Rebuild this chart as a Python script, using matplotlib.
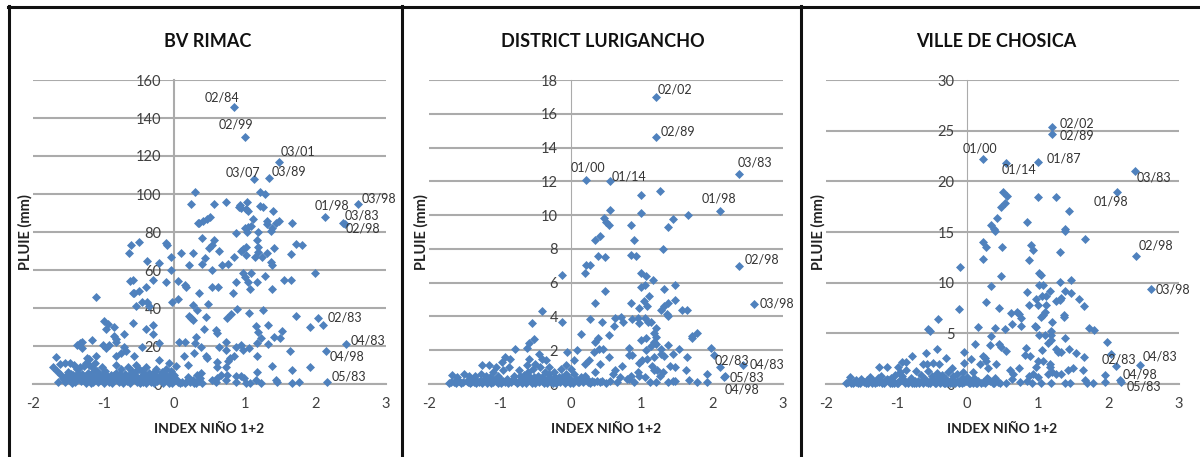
import matplotlib
matplotlib.use('Agg')
import matplotlib.pyplot as plt
from matplotlib.lines import Line2D
import numpy as np

plt.rcParams['font.family'] = ['Lato', 'DejaVu Sans']
plt.rcParams['axes.unicode_minus'] = False

# (indice, pluie)
rimac_pts = [
    (0.85,146),(1.0,130),(1.48,117),(1.13,108),(1.34,108.5),(2.13,88),(2.6,95),(2.39,85),(2.42,84),
    (0.29,101),(1.21,101),(1.28,100),(0.24,95),(0.57,95),(0.73,96),(1.03,96),(0.93,94),(0.92,93),(0.95,92.5),
    (1.01,92),(1.05,91),(1.21,93.5),(1.26,93),(1.4,91),(1.11,87),(1.32,86),(1.49,86),(1.44,85),(1.67,85),
    (0.51,88),(0.47,87),(0.41,86),(0.35,85),(0.34,84.5),(1.09,83),(1.05,82.5),(1.0,82),(1.32,84),(1.38,82),
    (0.88,79.5),(1.03,80),(1.19,80),(1.37,80.5),(0.39,77),(0.57,76),(-0.5,74.5),(-0.61,73),(-0.64,69),(-0.11,74),
    (-0.1,73),(0.54,73),(0.49,71.5),(0.63,70),(0.27,69),(0.09,69),(-0.05,67),(1.17,76),(1.19,72),(1.18,69.5),
    (1.15,67),(0.98,71),(1.02,72),(0.94,70),(1.01,68),(1.31,69),(1.25,67),(1.42,71.5),(1.73,73.5),(1.81,73),
    (1.65,68.5),(0.84,67),(0.43,66.5),(-0.39,65),(-0.21,63.5),(0.21,62.5),(0.39,63),(0.67,62.5),(0.76,63),
    (1.37,64),(1.38,62.5),(-0.04,60),(0.54,60),(2.0,58.5),(1.09,58.5),(0.98,58.5),(1.0,56.5),(1.28,57),
    (1.56,54.5),(1.65,54.5),(-0.59,55),(-0.63,54),(-0.3,54.5),(-0.11,53.5),(0.05,54),(0.16,52),(0.17,51),
    (0.54,51),(0.62,51),(1.05,53.5),(1.17,53.5),(0.87,53.5),(1.07,50),(1.38,50),(-0.4,51),(-0.5,49),(-0.59,48),
    (-0.57,48),(0.83,48),(0.35,48),(-1.11,46),(0.05,45),(-0.03,43),(-0.45,43),(-0.38,43),(-0.54,41),(-0.35,41),
    (0.26,41.5),(0.48,42),(0.33,39),(0.89,39.5),(1.26,39),(1.06,37.5),(0.81,37),(0.75,35),(0.21,36),(0.24,34.5),
    (0.27,33.5),(0.45,35.5),(1.72,36),(2.03,35),(2.11,31),(1.93,30),(-0.99,33),(-0.94,31.5),(-0.97,29),(-0.85,30),
    (-0.59,32),(-0.4,29),(-0.3,31),(-0.3,26.5),(0.42,29),(0.59,28.5),(0.61,27),(1.16,30.5),(1.33,31),(1.19,27.5),
    (1.53,28),(-0.71,26.5),(-0.85,25.5),(-0.82,23.5),(1.42,24.5),(1.5,24),(1.23,24),(0.31,24.5),(-1.17,23),
    (-1.3,22),(-1.34,21.5),(-1.38,20.5),(-1.31,19),(-1.01,20.5),(-0.92,20.5),(-0.83,22),(-0.97,19),(-0.71,19.5),
    (-0.68,17.5),(-0.75,16.5),(-0.45,19.5),(-0.21,21.5),(0.07,22),(0.16,22),(0.3,21.5),(0.38,19.5),(0.63,19.5),
    (0.74,22),(0.74,18),(0.87,19.5),(0.94,20.5),(0.97,18),(1.06,19),(1.17,21.5),(1.33,21),(1.64,17.5),(2.15,17.5),
    (2.44,21),(0.28,16.5),(0.14,14.5),(0.45,14.5),(0.47,13.5),(1.17,15),(0.79,13.5),(0.85,14.5),(0.76,12),
    (0.61,11.5),(-0.21,12.5),(-0.07,11),(-0.57,14.5),(-0.83,14.5),(-1.11,14.5),(-1.24,13.5),(-1.67,14),
    (1.38,9.5),(1.93,9),(1.67,7.5),(1.17,6.5),(0.61,9),(0.74,9),(0.02,9.5),(0.19,10),(-0.4,9),(-0.54,10),(-0.83,10),
    (2.17,1),(1.77,1),(1.67,0.5),(1.44,2),(1.46,1),(1.23,0.5),(1.16,2),(1.01,0.5),(1.08,0.3),(0.88,1),(0.94,4),
    (0.87,4),(0.99,3),(0.75,4.5),(0.66,5),(0.73,2),(0.54,2),(0.59,1),(0.61,3),(0.39,0.5),(0.35,1.5),(0.31,0.5),
    (0.26,2),(0.2,3.5),(0.15,0.5),(0.08,0.5),(0.33,5),(0.38,6),
    # zone dense en bas a gauche
    (-1.71,9),(-1.66,7),(-1.62,10.5),(-1.55,11),(-1.47,11),(-1.42,10),(-1.58,3),(-1.52,5),(-1.48,2),(-1.43,4.5),
    (-1.65,1),(-1.55,1),(-1.45,0.7),(-1.38,8),(-1.33,9),(-1.28,9.5),(-1.25,11),(-1.2,10),(-1.15,8.5),(-1.1,7),
    (-1.35,3),(-1.3,5.5),(-1.27,2),(-1.22,6),(-1.18,4),(-1.15,1),(-1.1,3.5),(-1.05,5),(-1.02,9),(-1.0,0.5),
    (-0.98,7),(-0.95,3),(-0.92,1),(-0.9,5),(-0.86,2.5),(-0.83,6),(-0.8,4),(-0.78,1),(-0.75,8),(-0.72,3),
    (-0.7,5.5),(-0.67,1.5),(-0.64,4),(-0.6,7),(-0.58,2.5),(-0.55,5),(-0.52,1),(-0.5,8),(-0.47,3.5),(-0.44,1),
    (-0.42,5),(-0.38,2),(-0.35,6),(-0.33,0.8),(-0.3,3),(-0.27,7),(-0.24,1.5),(-0.2,4.5),(-0.17,6.5),(-0.14,2),
    (-0.11,5),(-0.08,0.5),(-0.05,7),(-0.02,3),(0.0,5),(-1.4,1),(-1.25,0.5),(-1.18,0.6),(-1.08,0.8),(-0.88,0.5),
    (-0.73,0.6),(-0.62,0.5),(-0.48,0.5),(-0.4,0.7),(-0.28,0.5),(-0.16,0.5),(-0.03,0.6),(-1.5,6.5),(-1.36,6),
    (-1.12,11),(-1.2,13),(-1.05,2),(-0.65,9),(-0.46,7),(-0.26,8),(-0.12,8),
    (-1.6,4.5),(-1.56,2.5),(-1.5,3.5),(-1.46,5.5),(-1.4,3),(-1.37,5),(-1.32,1.5),(-1.28,3.5),(-1.24,4.5),(-1.2,2),
    (-1.16,6),(-1.12,2.5),(-1.08,5),(-1.03,3),(-1.0,6),(-0.96,4.5),(-0.93,2),(-0.88,3.5),(-0.85,4.5),(-0.81,2.5),
    (-0.77,5.5),(-0.74,2),(-0.69,4),(-0.66,3),(-0.62,5.5),(-0.59,4),(-0.56,6.5),(-0.53,3),(-0.49,2),(-0.45,4),
    (-0.4,3),(-0.37,4.5),(-0.32,2),(-0.29,5),(-0.25,3.5),(-0.21,2.5),(-0.18,3.5),(-0.13,4),(-0.09,2.5),(-0.06,4.5),
    (-0.01,1.5),(0.03,2.5),(0.06,1),(0.11,1),(0.18,1.5),(0.23,1),(0.28,0.5),(0.36,3),
]
rimac_labels = ['02/84','02/99','03/01','03/07','03/89','01/98','03/98','03/83','02/98','02/83','04/83','04/98','05/83']
rimac_label_x = [0.68,0.87,1.75,0.98,1.63,2.24,2.9,2.66,2.67,2.42,2.74,2.45,2.47]
rimac_label_y = [150.7,136.7,122.5,111.4,111.8,93.7,97.4,88.8,82,34.9,22.8,14.7,3.7]

lurigancho_pts = [
    (1.2,17),(1.2,14.6),(0.22,12.05),(0.55,12),(2.38,12.45),(2.11,10.25),(1.26,11.4),(1.0,11.2),(0.56,10.3),
    (1.0,10.1),(1.66,10),(1.44,9.75),(0.47,9.8),(0.5,9.6),(0.54,9.4),(0.85,9.4),(1.38,9.3),
    (0.42,8.75),(0.34,8.55),(0.9,8.55),(1.31,8),(0.39,7.55),(0.49,7.5),(0.86,7.65),(0.93,7.55),(0.22,7.05),
    (0.28,7.05),(2.38,7),(0.21,6.55),(-0.12,6.45),(1.0,6.6),(1.07,6.4),(1.16,6.15),(1.05,5.85),(1.0,5.75),
    (1.47,5.85),(1.32,5.65),(0.48,5.5),(1.11,5.2),(1.47,4.95),(0.85,4.8),(1.04,4.9),(0.34,4.8),(2.59,4.75),
    (1.38,4.8),(1.32,4.6),(0.97,4.5),(1.08,4.6),(1.27,4.4),(1.57,4.4),(1.65,4.4),(-0.41,4.35),(1.36,4.15),
    (1.38,4),(-0.54,3.6),(-0.12,3.65),(0.27,3.85),(0.44,3.7),(0.63,3.9),(0.71,3.95),(0.74,3.7),(0.61,3.45),
    (0.87,3.85),(0.95,3.9),(0.96,3.6),(1.05,3.9),(1.1,3.7),(1.13,3.7),(1.2,3.3),(1.18,3),(1.2,2.8),(1.79,3),
    (1.72,2.85),(1.72,2.7),(0.14,2.95),(0.54,2.9),(0.39,2.7),(0.35,2.5),(-0.52,2.65),(-0.59,2.4),(1.0,2.6),
    (1.07,2.75),(1.18,2.5),(1.2,2.35),(1.14,2.25),(1.38,2.3),(-0.78,2.1),(-0.62,2.15),(0.09,2),(-0.05,1.9),
    (0.46,2.1),(0.4,2.05),(0.33,1.9),(0.82,2.15),(1.06,2),(1.27,2.1),(1.53,2.1),(1.98,2.15),(-0.44,1.8),
    (1.27,1.8),(1.32,1.65),(1.44,1.8),(2.02,1.7),(1.65,1.6),(0.54,1.6),(1.18,1.6),(0.82,1.7),(0.87,1.7),
    (0.05,1.4),(-0.92,1.6),(-0.85,1.5),(-0.97,1.3),(-0.59,1.5),(-0.4,1.5),(-0.35,1.4),(0.26,1.4),(0.21,1.2),
    (1.08,1.5),(1.01,1.4),(0.96,1.25),(0.42,1.2),(-0.07,1.1),(-0.5,1.2),(-0.61,1.1),(-1.25,1.1),(-1.15,1.1),
    (-1.06,1),(0.73,1.05),(1.41,1.05),(1.48,1),(2.11,1),(2.44,1.1),(1.15,1.05),(1.22,0.85),(2.17,0.4),(1.93,0.6),
    (1.63,0.8),(1.67,0.25),(1.78,0.1),(1.93,0.1),(2.18,0.45),(1.44,0.2),(1.38,0.1),(1.48,0.2),(1.26,0.5),(1.31,0.7),
    (1.18,0.8),(1.05,0.4),(0.95,0.7),(0.9,0.1),(0.97,0.5),(0.86,0.5),(0.79,0.3),(0.7,0.4),(0.63,0.8),(0.6,0.6),
    (0.55,0.2),(0.42,0.1),(0.34,0.7),(0.3,0.2),(0.23,0.3),(0.12,0.1),(0.05,0.6),(0.0,0.9),(-0.03,0.4),(1.12,0.1),
    (1.2,0.1),(0.82,0.3),(0.66,0.1),
    # zone dense en bas a gauche
    (-1.72,0.05),(-1.67,0.55),(-1.65,0.1),(-1.6,0.2),(-1.55,0.05),(-1.5,0.6),(-1.47,0.2),(-1.42,0.05),(-1.38,0.3),
    (-1.35,0.5),(-1.3,0.1),(-1.27,0.6),(-1.22,0.25),(-1.18,0.05),(-1.14,0.4),(-1.1,0.7),(-1.05,0.15),(-1.02,0.5),
    (-0.98,0.05),(-0.95,0.8),(-0.9,0.3),(-0.87,1.0),(-0.84,0.1),(-0.8,0.5),(-0.76,0.05),(-0.73,0.8),(-0.7,0.25),
    (-0.66,0.55),(-0.63,0.05),(-0.6,0.7),(-0.56,0.2),(-0.53,0.9),(-0.5,0.05),(-0.46,0.5),(-0.43,1.0),(-0.4,0.15),
    (-0.36,0.7),(-0.33,0.05),(-0.3,1.0),(-0.27,0.3),(-0.24,0.7),(-0.2,0.05),(-0.17,0.4),(-0.14,0.9),(-0.1,0.15),
    (-0.07,0.6),(-1.6,0.4),(-1.44,0.45),(-1.32,0.2),(-1.2,0.5),(-1.12,0.05),(-1.0,0.3),(-0.92,0.1),(-0.82,0.3),
    (-0.68,0.05),(-0.58,0.4),(-0.48,0.25),(-0.38,0.05),(-0.28,0.1),(-0.18,0.2),(-0.08,0.05),(0.02,0.15),(0.08,0.3),
    (0.17,0.1),(0.2,0.5),(0.27,0.05),(-1.4,0.1),(-1.25,0.05),(-1.08,0.25),(-0.78,0.15),
    (-1.69,0.1),(-1.62,0.05),(-1.57,0.15),(-1.52,0.1),(-1.45,0.1),(-1.36,0.1),(-1.33,0.05),(-1.28,0.15),(-1.24,0.2),
    (-1.16,0.2),(-1.1,0.1),(-1.03,0.05),(-0.96,0.2),(-0.88,0.05),(-0.74,0.1),(-0.71,0.5),(-0.64,0.3),(-0.55,0.05),
    (-0.52,0.4),(-0.44,0.1),(-0.41,0.4),(-0.34,0.3),(-0.31,0.6),(-0.25,0.05),(-0.22,0.4),(-0.15,0.1),(-0.12,0.4),
    (-0.05,0.2),(-0.01,0.05),(0.04,0.05),(0.1,0.1),(0.14,0.4),(0.24,0.1),(0.33,0.1),(0.37,0.2),(0.45,0.2),(0.5,0.05),
]
lurigancho_labels = ['02/02','02/89','01/00','01/14','03/83','01/98','02/98','03/98','02/83','04/83','05/83','04/98']
lurigancho_label_x = [1.48,1.52,0.25,0.83,2.6,2.1,2.7,2.92,2.28,2.78,2.49,2.42]
lurigancho_label_y = [17.43,14.94,12.83,12.29,13.12,11.0,7.39,4.74,1.42,1.15,0.41,-0.34]

chosica_pts = [
    (1.2,25.4),(1.2,24.7),(0.22,22.2),(0.55,21.8),(1.0,21.9),(2.38,21),(2.12,18.9),(0.51,18.9),(0.57,18.6),
    (1.0,18.5),(1.26,18.5),(0.54,17.9),(0.48,17.5),(1.44,17.1),(0.42,16.4),(0.85,16),(0.34,15.7),(0.38,15.3),(1.38,15.3),
    (0.39,15.1),(1.38,15.1),(1.67,14.3),(0.23,14),(0.27,13.5),(0.49,13.5),(0.9,13.7),(0.93,13.2),(1.31,13.05),
    (2.39,12.6),(0.88,12.2),(0.22,12.35),(-0.1,11.55),(1.02,11),(1.04,10.8),(0.48,10.7),(1.47,10.3),(1.32,10.1),
    (1.02,9.75),(1.07,9.75),(0.34,9.65),(2.6,9.35),(1.17,9.2),(1.38,9.15),(0.85,9.1),(1.47,9),(0.97,8.4),(1.06,8.65),
    (1.12,8.7),(1.58,8.4),(0.27,8.1),(1.33,8.5),(1.31,8.3),(1.26,8.15),(0.88,7.8),(1.0,7.8),(1.11,7.8),(1.65,7.7),
    (0.45,7.5),(-0.12,7.4),(0.62,7),(0.7,7.1),(0.73,6.95),(1.1,7.15),(1.07,6.85),(1.04,6.6),(1.37,6.85),(1.37,6.6),
    (0.76,6.5),(1.2,6.1),(-0.41,6.4),(0.64,5.9),(0.76,5.7),(0.96,5.75),(0.97,5.6),(0.16,5.6),(0.39,5.5),(0.54,5.45),
    (-0.55,5.45),(-0.53,5.2),(1.72,5.5),(1.8,5.35),(1.19,5.2),(1.01,4.8),(1.1,4.8),(1.19,4.85),(0.34,4.7),(1.98,4.15),
    (1.18,4.3),(1.15,4),(1.38,4.5),(0.11,3.9),(0.32,3.8),(0.45,3.9),(0.48,3.7),(-0.43,3.5),(-0.59,3.1),(-0.04,3.2),
    (0.55,3.3),(0.83,3.55),(1.06,3.35),(1.26,3.5),(1.29,3.2),(1.33,3.2),(1.44,3.45),(1.54,3.05),(2.04,3),(-0.78,2.75),
    (-0.3,2.55),(0.05,2.5),(0.82,2.85),(0.89,2.75),(1.65,2.7),(0.23,2.75),(0.25,2.55),(0.27,2.3),(1.0,2.3),(1.07,2.3),
    (1.17,2),(-0.05,2.05),(0.18,1.95),(0.41,1.95),(-0.93,2.2),(-0.86,2.15),(-0.62,2),(-0.57,2),(-0.48,2.1),(-0.4,1.95),
    (2.11,1.8),(2.45,1.9),(-1.25,1.65),(-1.13,1.65),(-0.98,1.7),(0.97,1.65),(0.73,1.55),(1.5,1.55),(1.43,1.4),(1.64,1.4),
    (-0.22,1.55),(0.3,1.55),(0.6,1.4),(1.17,1.65),(1.33,1),(0.08,1.2),(-0.06,1.2),(1.95,0.9),(2.16,0.4),(2.18,0.2),
    (1.67,0.4),(1.69,0.1),(1.78,0.1),(1.95,0.15),(1.38,0.1),(1.45,0.1),(1.2,1.2),(1.15,1),(1.26,1),(0.93,1),(0.87,0.8),
    (1.0,0.7),(1.04,0.1),(1.19,0.1),(0.92,0.1),(0.85,0.3),(0.75,0.2),(0.65,1),(0.63,0.5),(0.55,0.1),(0.47,0.05),
    (0.36,0.1),(0.4,0.6),(0.3,0.5),(0.2,0.1),(0.12,0.05),(0.05,0.3),(0.0,0.7),
    # zone dense en bas a gauche
    (-1.72,0.05),(-1.66,0.65),(-1.64,0.1),(-1.6,0.2),(-1.55,0.05),(-1.5,0.5),(-1.46,0.15),(-1.4,0.05),(-1.37,0.7),
    (-1.33,0.3),(-1.3,0.05),(-1.27,0.6),(-1.22,0.8),(-1.18,0.1),(-1.14,0.5),(-1.1,0.05),(-1.05,0.25),(-1.02,0.9),
    (-0.98,0.1),(-0.95,1.2),(-0.9,0.4),(-0.87,1.4),(-0.84,0.05),(-0.8,0.6),(-0.76,0.1),(-0.72,1.3),(-0.7,0.3),
    (-0.66,0.9),(-0.63,0.05),(-0.6,0.5),(-0.56,1.3),(-0.53,0.1),(-0.5,0.8),(-0.46,0.05),(-0.43,1.1),(-0.4,0.3),
    (-0.36,0.9),(-0.33,0.05),(-0.3,0.5),(-0.27,1.2),(-0.24,0.1),(-0.2,0.8),(-0.17,0.05),(-0.14,1.0),(-0.1,0.2),
    (-0.07,0.6),(-1.58,0.35),(-1.42,0.4),(-1.25,0.2),(-1.12,0.35),(-1.0,0.05),(-0.92,0.8),(-0.82,0.25),(-0.68,0.05),
    (-0.58,0.2),(-0.48,0.3),(-0.38,0.05),(-0.28,0.1),(-0.18,0.3),(-0.08,0.05),(0.02,0.1),(0.1,0.6),(0.16,0.3),
    (0.25,0.1),(0.28,0.6),(-1.35,0.05),(-1.2,0.1),(-1.08,0.6),(-0.78,0.1),
    (-1.69,0.15),(-1.62,0.05),(-1.57,0.2),(-1.52,0.1),(-1.44,0.1),(-1.35,0.4),(-1.28,0.15),(-1.24,0.4),(-1.16,0.3),
    (-1.07,0.1),(-1.03,0.05),(-0.96,0.3),(-0.88,0.1),(-0.74,0.3),(-0.72,0.05),(-0.64,0.3),(-0.55,0.05),(-0.52,0.3),
    (-0.44,0.1),(-0.41,0.6),(-0.34,0.2),(-0.31,0.05),(-0.25,0.3),(-0.22,0.05),(-0.15,0.3),(-0.12,0.05),(-0.05,0.2),
    (-0.01,0.3),(0.04,0.05),(0.08,0.1),(0.14,0.1),(0.22,0.2),(0.33,0.3),(0.38,0.05),(0.43,0.2),
]
chosica_labels = ['02/02','02/89','01/00','01/14','01/87','03/83','01/98','02/98','03/98','02/83','04/83','04/98','05/83']
chosica_label_x = [1.56,1.56,0.18,0.74,1.37,2.64,2.03,2.67,2.92,2.15,2.73,2.45,2.5]
chosica_label_y = [25.68,24.5,23.2,21.15,22.28,20.4,18.05,13.7,9.37,2.44,2.67,0.96,-0.26]

x_ticks = [-2, -1, 0, 1, 2, 3]
W, H = 1200, 457
TXT = '#404040'
GRIS = '#ababab'
BLEU = '#4f81bd'


def panneau(x0, x1, titre, titre_px, pts, noms, nx, ny, ymax, pas, lw_axe):
    ax = fig.add_axes([x0 / W, 1 - 384 / H, (x1 - x0) / W, 304 / H])
    pts = np.array(pts)
    ax.scatter(pts[:, 0], pts[:, 1], marker='D', s=21, color=BLEU, linewidths=0, zorder=3, clip_on=False)
    ax.set_xlim(-2, 3)
    ax.set_ylim(0, ymax)
    ax.set_xticks(x_ticks)
    ax.set_yticks(np.arange(0, ymax + 1, pas))
    ax.grid(True, axis='y', color=GRIS, linewidth=1.5, zorder=1)
    ax.set_axisbelow(True)
    for s in ['top', 'right']:
        ax.spines[s].set_visible(False)
    ax.spines['left'].set_position(('data', 0))
    ax.spines['left'].set_color(GRIS)
    ax.spines['left'].set_linewidth(lw_axe)
    ax.spines['bottom'].set_color(GRIS)
    ax.spines['bottom'].set_linewidth(1.5)
    ax.tick_params(axis='y', length=0, pad=9, labelsize=10.5, labelcolor=TXT)
    ax.tick_params(axis='x', length=0, pad=9, labelsize=10.5, labelcolor=TXT)
    for t in ax.get_yticklabels():
        t.set_zorder(4)
    ax.set_title(titre, fontsize=13, fontweight='bold', color='#111111', pad=0,
                 x=(titre_px - x0) / (x1 - x0), y=1.128, va='center')
    ax.set_xlabel('INDEX NIÑO 1+2', fontsize=10, fontweight='bold', color='#222222', labelpad=9)
    ax.set_ylabel('PLUIE (mm)', fontsize=10.5, fontweight='bold', color='#222222')
    ax.yaxis.set_label_coords(-0.002, 0.5)
    for nom, a, b in zip(noms, nx, ny):
        ax.text(a, b, nom, fontsize=9, color='#333333', ha='center', va='center', zorder=5)


fig = plt.figure(figsize=(W / 100, H / 100), dpi=100)

panneau(33, 386, 'BV RIMAC', 208, rimac_pts, rimac_labels, rimac_label_x, rimac_label_y, 160, 20, 1.5)
panneau(429, 783, 'DISTRICT LURIGANCHO', 602.5, lurigancho_pts, lurigancho_labels, lurigancho_label_x, lurigancho_label_y, 18, 2, 0.8)
panneau(826, 1179, 'VILLE DE CHOSICA', 996.5, chosica_pts, chosica_labels, chosica_label_x, chosica_label_y, 30, 5, 0.8)

# cadres noirs
fig.add_artist(Line2D([8 / W, 1], [1 - 6.5 / H, 1 - 6.5 / H], color='#111111', lw=2.2))
for xc in [8.5, 401.5, 801]:
    fig.add_artist(Line2D([xc / W, xc / W], [0, 1 - 6 / H], color='#111111', lw=2.2))

fig.savefig('out.png', dpi=100)
